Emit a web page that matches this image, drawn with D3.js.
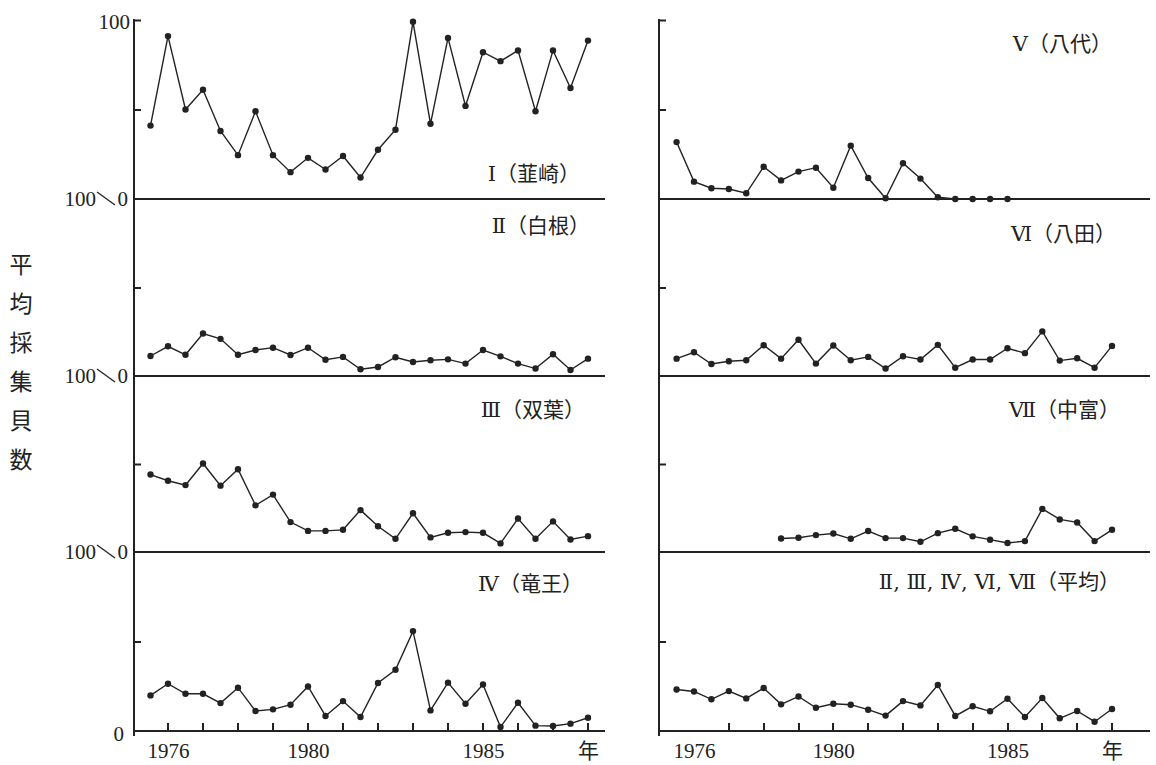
<!DOCTYPE html>
<html>
<head>
<meta charset="utf-8">
<script src="https://cdn.jsdelivr.net/npm/d3@7"></script>
<style>
  body { margin: 0; background: #fff; }
  text { fill: #222; }
</style>
</head>
<body>
<div class="canvas"></div>
<script>
// survey periods (spring / autumn, 1975 autumn - 1988)
const periods = [1975.5, 1976, 1976.5, 1977, 1977.5, 1978, 1978.5, 1979, 1979.5, 1980,
  1980.5, 1981, 1981.5, 1982, 1982.5, 1983, 1983.5, 1984, 1984.5, 1985,
  1985.5, 1986, 1986.5, 1987, 1987.5, 1988];

// average number of snails collected per site
const nirasaki = [41, 91, 50, 61, 38, 24.5, 49, 24.5, 15, 23, 16.5, 24, 12, 27.5, 38.7, 99, 42, 90, 52, 82, 77, 83, 49, 83, 62, 88.5];
const shirane = [11.3, 16.8, 12, 24, 21, 12, 14.7, 16, 11.9, 16, 9.2, 10.8, 3.8, 5.1, 10.6, 7.9, 8.9, 9.4, 7, 14.7, 11.1, 7, 4.2, 12.3, 3.4, 9.8];
const futaba = [44, 40.5, 38, 50.3, 37.7, 47, 26.5, 32.6, 17, 12, 12, 12.6, 23.8, 14.6, 7.5, 22, 8.3, 10.9, 11.3, 10.9, 4.9, 19, 7.5, 17.4, 7.1, 9];
const ryuo = [19.9, 26.4, 20.8, 20.8, 15.6, 24.2, 11.2, 12.1, 14.7, 24.9, 8.4, 16.7, 7.8, 26.8, 34.2, 55.8, 11.5, 27, 15.2, 26, 2.2, 15.8, 3, 2.8, 4.1, 7.4];
const yashiro = [31.8, 9.7, 6, 5.6, 3.2, 18, 10.4, 15.3, 17.5, 6.3, 29.8, 11.7, 0.4, 20, 11.4, 1, 0, 0, 0, 0, null, null, null, null, null, null];
const hatta = [9.8, 13.4, 6.8, 8.3, 8.9, 17.4, 9.8, 20.5, 7, 17.2, 8.9, 10.8, 4.2, 11.2, 9.3, 17.6, 4.7, 9.3, 9.3, 15.7, 12.9, 25.2, 8.7, 10, 4.7, 17];
const nakatomi = [null, null, null, null, null, null, 7.7, 8.1, 9.6, 10.5, 7.5, 11.9, 7.9, 7.9, 5.8, 10.7, 13.2, 8.9, 7, 5.1, 6.2, 24.5, 18.5, 16.8, 6.2, 12.6];
const average = [23.2, 22.1, 17.7, 22.3, 18.2, 24, 14.9, 19.3, 13, 15.2, 14.7, 11.9, 8.6, 16.7, 14.3, 25.7, 8.4, 13.8, 11, 18, 7.8, 18.4, 7.1, 11.2, 5.2, 12.3];

const leftTitles = ["Ⅰ（韮崎）", "Ⅱ（白根）", "Ⅲ（双葉）", "Ⅳ（竜王）"];
const rightTitles = ["Ⅴ（八代）", "Ⅵ（八田）", "Ⅶ（中富）", "Ⅱ, Ⅲ, Ⅳ, Ⅵ, Ⅶ（平均）"];
const yearLabels = { 1976: "1976", 1980: "1980", 1985: "1985", 1988: "年" };
const years = [1976, 1977, 1978, 1979, 1980, 1981, 1982, 1983, 1984, 1985, 1986, 1987, 1988];
const yTitle = ["平", "均", "採", "集", "貝", "数"];

const width = 1156;
const height = 765;
const serif = "'Liberation Serif', 'DejaVu Serif', 'Noto Sans CJK JP', serif";
const cjk = "'DejaVu Serif', 'Noto Sans CJK JP', sans-serif";

const svg = d3
  .select(".canvas")
  .append("svg")
  .attr("width", width)
  .attr("height", height);

svg.append("rect").attr("width", width).attr("height", height).attr("fill", "#fff");

// panel edges (top of I / V ... bottom of IV / avg)
const edges = [20, 199, 376, 552, 731];

const columns = [
  {
    axisX: 134,
    endX: 605,
    x: d3.scaleLinear().domain([1976, 1988]).range([168, 588]),
    series: [nirasaki, shirane, futaba, ryuo],
    titles: leftTitles,
    titleX: [580, 590, 585, 583],
    titleY: [174, 226, 410, 584],
    firstTick: true,
  },
  {
    axisX: 659,
    endX: 1150,
    x: d3.scaleLinear().domain([1976, 1988]).range([694, 1112]),
    series: [yashiro, hatta, nakatomi, average],
    titles: rightTitles,
    titleX: [1112, 1116, 1120, 1120],
    titleY: [44, 234, 410, 582],
    firstTick: false,
  },
];

columns.forEach((col) => {
  const colG = svg.append("g");

  // vertical axis line
  colG
    .append("line")
    .attr("x1", col.axisX)
    .attr("x2", col.axisX)
    .attr("y1", edges[0] - 1)
    .attr("y2", edges[4] + 5)
    .attr("stroke", "#222")
    .attr("stroke-width", 2);

  col.series.forEach((values, i) => {
    const y = d3.scaleLinear().domain([0, 100]).range([edges[i + 1], edges[i]]);
    const g = colG.append("g");

    // baseline of the panel
    g.append("line")
      .attr("x1", col.axisX)
      .attr("x2", col.endX)
      .attr("y1", y(0))
      .attr("y2", y(0))
      .attr("stroke", "#222")
      .attr("stroke-width", 2);

    // inner ticks on y axis
    const yAxis = d3
      .axisRight(y)
      .tickValues(i === 0 ? [50, 100] : [50])
      .tickSize(7)
      .tickFormat("");
    const yAxisGroup = g.append("g").attr("transform", `translate(${col.axisX}, 0)`).call(yAxis);
    yAxisGroup.select(".domain").remove();
    yAxisGroup.selectAll("line").attr("stroke", "#222").attr("stroke-width", 2);

    // x axis on the bottom panel only
    if (i === 3) {
      const base = y(0);

      // upward year ticks
      const tickPath = years
        .filter((d) => col.firstTick || d !== years[0])
        .map((d) => `M${Math.round(col.x(d))},${base + 1}V${base - 8}`)
        .join("");
      g.append("path")
        .attr("d", tickPath)
        .attr("fill", "none")
        .attr("stroke", "#222")
        .attr("stroke-width", 2);

      const xAxis = d3
        .axisBottom(col.x)
        .tickValues(Object.keys(yearLabels).map(Number))
        .tickSize(0)
        .tickPadding(12)
        .tickFormat((d) => yearLabels[d]);
      const xAxisGroup = g.append("g").attr("transform", `translate(0, ${base})`).call(xAxis);
      xAxisGroup.select(".domain").remove();
      xAxisGroup.selectAll(".tick line").remove();
      xAxisGroup
        .selectAll("text")
        .attr("font-family", serif)
        .attr("font-size", 21)
        .attr("fill", "#222");
    }

    const pts = periods.map((p, k) => ({ p, v: values[k] }));

    const line = d3
      .line()
      .defined((d) => d.v !== null)
      .x((d) => col.x(d.p))
      .y((d) => y(d.v));

    g.append("path")
      .datum(pts)
      .attr("fill", "none")
      .attr("stroke", "#222")
      .attr("stroke-width", 1.4)
      .attr("d", line);

    g.selectAll("circle")
      .data(pts.filter((d) => d.v !== null))
      .enter()
      .append("circle")
      .attr("cx", (d) => col.x(d.p))
      .attr("cy", (d) => y(d.v))
      .attr("r", 3.2)
      .attr("fill", "#222");

    g.append("text")
      .attr("x", col.titleX[i])
      .attr("y", col.titleY[i])
      .attr("text-anchor", "end")
      .attr("dominant-baseline", "central")
      .attr("font-family", cjk)
      .attr("font-size", 21)
      .text(col.titles[i]);
  });
});

// left value labels
const labelG = svg.append("g").attr("font-family", serif).attr("font-size", 21);

labelG
  .append("text")
  .attr("x", 130)
  .attr("y", edges[0] + 2)
  .attr("text-anchor", "end")
  .attr("dominant-baseline", "central")
  .text("100");

edges.slice(1, 4).forEach((e) => {
  labelG
    .append("text")
    .attr("x", 96)
    .attr("y", e)
    .attr("text-anchor", "end")
    .attr("dominant-baseline", "central")
    .text("100");
  labelG
    .append("line")
    .attr("x1", 97)
    .attr("x2", 115)
    .attr("y1", e - 7)
    .attr("y2", e + 6)
    .attr("stroke", "#222")
    .attr("stroke-width", 1.3);
  labelG
    .append("text")
    .attr("x", 128)
    .attr("y", e)
    .attr("text-anchor", "end")
    .attr("dominant-baseline", "central")
    .text("0");
});

labelG
  .append("text")
  .attr("x", 124)
  .attr("y", edges[4] + 3)
  .attr("text-anchor", "end")
  .attr("dominant-baseline", "central")
  .text("0");

// vertical y title
svg
  .append("g")
  .selectAll("text")
  .data(yTitle)
  .enter()
  .append("text")
  .attr("x", 21)
  .attr("y", (d, i) => 263 + i * 39)
  .attr("text-anchor", "middle")
  .attr("dominant-baseline", "central")
  .attr("font-family", "'Noto Sans CJK JP', sans-serif")
  .attr("font-size", 23)
  .text((d) => d);
</script>
</body>
</html>
